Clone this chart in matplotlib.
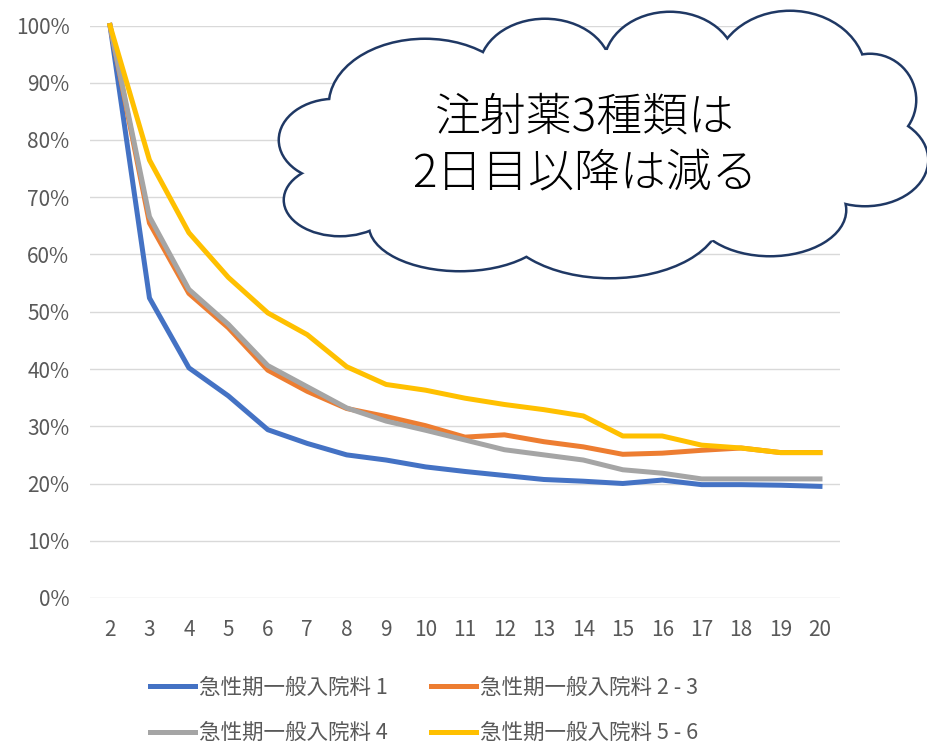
import matplotlib
matplotlib.use('Agg')
import matplotlib.pyplot as plt
from matplotlib.patches import Ellipse
from matplotlib.ticker import PercentFormatter
import numpy as np

plt.rcParams['font.family'] = ['Noto Sans CJK JP', 'DejaVu Sans']

# days after admission
days = list(range(2, 21))

# share of patients still on 3 kinds of injections (%)
rate_1 = [100, 52.4, 40.2, 35.3, 29.4, 27.0, 25.0, 24.1, 22.9, 22.1,
          21.4, 20.7, 20.4, 20.0, 20.6, 19.8, 19.8, 19.7, 19.5]
rate_2_3 = [100, 65.5, 53.2, 47.2, 39.8, 36.1, 33.1, 31.7, 30.1, 28.1,
            28.5, 27.3, 26.4, 25.1, 25.3, 25.8, 26.2, 25.4, 25.4]
rate_4 = [100, 66.6, 53.9, 47.8, 40.6, 36.9, 33.2, 30.9, 29.3, 27.6,
          25.9, 25.0, 24.1, 22.4, 21.8, 20.8, 20.8, 20.8, 20.8]
rate_5_6 = [100, 76.5, 63.8, 56.0, 49.8, 46.0, 40.4, 37.3, 36.3, 34.9,
            33.8, 32.9, 31.8, 28.3, 28.3, 26.7, 26.2, 25.4, 25.4]

labels = ['急性期一般入院料 1', '急性期一般入院料 2 - 3',
          '急性期一般入院料 4', '急性期一般入院料 5 - 6']
note = '注射薬3種類は\n2日目以降は減る'

colors = ['#4472C4', '#ED7D31', '#A5A5A5', '#FFC000']
txt_col = '#595959'

W, H = 927, 749
fig = plt.figure(figsize=(W / 100, H / 100), dpi=100)
ax = fig.add_axes([90.3 / W, 1 - 598 / H, (839.7 - 90.3) / W, (598 - 25.5) / H])

lines = []
for vals, c, lab in zip([rate_1, rate_2_3, rate_4, rate_5_6], colors, labels):
    l, = ax.plot(days, np.array(vals) / 100, color=c, lw=3.6, label=lab,
                 solid_joinstyle='round', clip_on=False, zorder=3)
    lines.append(l)

ax.set_xlim(1.5, 20.5)
ax.set_ylim(0, 1)
ax.set_xticks(days)
ax.set_yticks(np.arange(0, 1.01, 0.1))
ax.yaxis.set_major_formatter(PercentFormatter(1.0, decimals=0))
ax.grid(axis='y', color='#D9D9D9', lw=1.0)
ax.set_axisbelow(True)
for s in ax.spines.values():
    s.set_visible(False)
ax.tick_params(axis='both', length=0, labelsize=15, labelcolor=txt_col)
ax.tick_params(axis='y', pad=15)
ax.tick_params(axis='x', pad=15)

# legend: columns filled first, so reorder
order = [0, 2, 1, 3]
fig.legend([lines[i] for i in order], [labels[i] for i in order], ncol=2,
           loc='upper left', bbox_to_anchor=(141 / W, 1 - 668 / H),
           frameon=False, fontsize=15.5, labelcolor=txt_col,
           handlelength=2.1, handletextpad=0.2, columnspacing=2.0,
           labelspacing=1.1, borderaxespad=0)

# cloud callout drawn on a pixel overlay
ov = fig.add_axes([0, 0, 1, 1], zorder=5)
ov.set_xlim(0, W)
ov.set_ylim(H, 0)
ov.axis('off')
bumps = [(425, 105, 190, 130), (545, 70, 130, 100), (670, 65, 130, 104),
         (790, 75, 150, 126), (870, 100, 90, 90), (865, 160, 124, 90),
         (770, 210, 150, 90), (610, 215, 220, 124), (460, 225, 180, 90),
         (340, 200, 110, 70), (335, 140, 110, 80)]
for cx, cy, w, h in bumps:
    ov.add_patch(Ellipse((cx, cy), w, h, facecolor='white',
                         edgecolor='#1F3864', lw=3.6, zorder=1, clip_on=False))
for cx, cy, w, h in bumps:
    ov.add_patch(Ellipse((cx, cy), w, h, facecolor='white',
                         edgecolor='none', zorder=2, clip_on=False))
ov.add_patch(Ellipse((600, 150), 520, 200, facecolor='white',
                     edgecolor='none', zorder=2))
ov.text(585, 146, note, ha='center', va='center', fontsize=33,
        fontweight='light', linespacing=1.25, color='black', zorder=3)

fig.savefig('out.png', dpi=100)
